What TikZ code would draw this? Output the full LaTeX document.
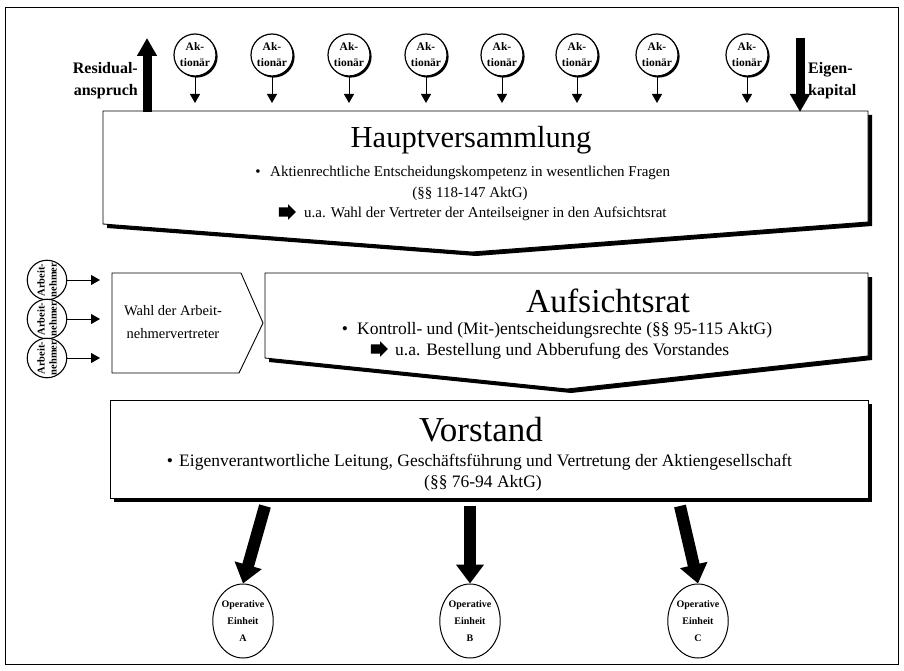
\documentclass[tikz,border=0pt]{standalone}
\usepackage{fontspec}
\setmainfont{Liberation Serif}
\usetikzlibrary{arrows.meta,shapes.arrows,shapes.geometric,shadows}
\begin{document}
\begin{tikzpicture}[x=1pt,y=-1pt,
  frame/.style={line width=1pt},
  boxshape/.style={fill=white,draw=black,line width=0.9pt},
  boxshadow/.style={fill=black},
  title/.style={inner sep=0pt,anchor=base},
  body/.style={inner sep=0pt,anchor=base west},
  bodyc/.style={inner sep=0pt,anchor=base},
  side/.style={inner sep=0pt,font=\bfseries\fontsize{16}{22}\selectfont},
  aktionaer/.style={circle,draw,fill=white,line width=1.2pt,minimum size=42pt,inner sep=0pt,
     align=center,font=\bfseries\fontsize{11.5}{16}\selectfont,
     drop shadow={opacity=1,fill=black,shadow xshift=1.6pt,shadow yshift=-1.6pt}},
  arbeit/.style={circle,draw,fill=white,line width=1.1pt,minimum size=38pt,inner sep=0pt,
     align=center,rotate=90,font=\bfseries\fontsize{10.5}{12}\selectfont},
  einheit/.style={ellipse,draw,fill=white,line width=1pt,minimum width=57pt,minimum height=74pt,
     inner sep=0pt,align=center,font=\bfseries\fontsize{10}{17}\selectfont},
  smallarrow/.style={line width=1pt,-{Triangle[length=9pt,width=10pt]}},
  bigarrow/.style={line width=9pt,-{Triangle[length=18pt,width=19pt]}},
  blockarrow/.style={line width=12pt,-{Triangle[length=19pt,width=27pt]}},
  uaarrow/.style={single arrow,fill=black,minimum height=17pt,inner xsep=0pt,inner ysep=4.5pt,
     single arrow head extend=3pt},
  bullet/.style={inner sep=0pt,anchor=base}
]
\useasboundingbox (0,0) rectangle (904,671);
\fill[white] (0,0) rectangle (904,671);
\draw[frame] (5,8) rectangle (898,664);

% ---------- Hauptversammlung ----------
\fill[boxshadow,shift={(4,4)}] (103,111) -- (868,111) -- (868,222) -- (472,252) -- (103,224) -- cycle;
\draw[boxshape] (103,111) -- (868,111) -- (868,222) -- (472,252) -- (103,224) -- cycle;
\begin{scope}[every node/.append style={font=\fontsize{15}{17}\selectfont}]
\node[title,font=\fontsize{30.5}{36}\selectfont] (hvtitle) at (471,148) {Hauptversammlung};
\node[bullet] (hvb) at (258,177) {\textbullet};
\node[body] (hv1) at (270,177) {Aktienrechtliche Entscheidungskompetenz in wesentlichen Fragen};
\node[bodyc] (hv2) at (470,197) {(§§ 118-147 AktG)};
\node[uaarrow] (hvua) at (285,212) {};
\node[body] (hv3) at (304,217) {u.a. Wahl der Vertreter der Anteilseigner in den Aufsichtsrat};
\end{scope}

% ---------- Aufsichtsrat ----------
\fill[boxshadow,shift={(4,4)}] (265,273) -- (868,273) -- (868,356) -- (567,389) -- (265,358) -- cycle;
\draw[boxshape] (265,273) -- (868,273) -- (868,356) -- (567,389) -- (265,358) -- cycle;
\begin{scope}[every node/.append style={font=\fontsize{17.5}{20}\selectfont}]
\node[title,font=\fontsize{33.5}{38}\selectfont] (artitle) at (608,312) {Aufsichtsrat};
\node[bullet] (arb) at (345,334) {\textbullet};
\node[body] (ar1) at (357,334) {Kontroll- und (Mit-)entscheidungsrechte (§§ 95-115 AktG)};
\node[uaarrow] (arua) at (377,349) {};
\node[body] (ar2) at (395,355) {u.a. Bestellung und Abberufung des Vorstandes};
\end{scope}

% ---------- Wahl der Arbeitnehmervertreter ----------
\draw[boxshape] (112,273) -- (241,273) -- (263,323) -- (239,373) -- (112,373) -- cycle;
\node[inner sep=0pt,align=center,font=\fontsize{14.5}{23}\selectfont] (wahl) at (173,322) {Wahl der Arbeit-\\nehmervertreter};
\coordinate (w1) at (100,280);
\coordinate (w2) at (100,319);
\coordinate (w3) at (100,358);

% Arbeitnehmer circles
\node[arbeit] (an1) at (47,280) {Arbeit-\\nehmer};
\node[arbeit] (an2) at (47,319) {Arbeit-\\nehmer};
\node[arbeit] (an3) at (47,358) {Arbeit-\\nehmer};
\draw[smallarrow] (an1) -- (w1);
\draw[smallarrow] (an2) -- (w2);
\draw[smallarrow] (an3) -- (w3);

% ---------- Vorstand ----------
\fill[boxshadow,shift={(4,4)}] (110,400) rectangle (868,498);
\draw[boxshape] (110,400) rectangle (868,498);
\begin{scope}[every node/.append style={font=\fontsize{17.5}{20}\selectfont}]
\node[title,font=\fontsize{35}{40}\selectfont] (vtitle) at (481,441) {Vorstand};
\node[bullet] (vb) at (170,466) {\textbullet};
\node[body] (v1) at (179,466) {Eigenverantwortliche Leitung, Geschäftsführung und Vertretung der Aktiengesellschaft};
\node[bodyc] (v2) at (483,487) {(§§ 76-94 AktG)};
\end{scope}

% ---------- Operative Einheiten ----------
\node[einheit] (eA) at (243,621) {Operative\\Einheit\\A};
\node[einheit] (eB) at (470,621) {Operative\\Einheit\\B};
\node[einheit] (eC) at (698,621) {Operative\\Einheit\\C};
\coordinate (vA) at (265,506);
\coordinate (vB) at (470,506);
\coordinate (vC) at (680,506);
\draw[blockarrow] (vA) -- (eA.north);
\draw[blockarrow] (vB) -- (eB.north);
\draw[blockarrow] (vC) -- (eC.north);

% ---------- Aktionäre ----------
\foreach \i/\x in {1/195,2/272,3/349,4/426,5/502,6/577,7/657,8/747}{
  \node[aktionaer] (ak\i) at (\x,55) {Ak-\\tionär};
  \coordinate (akt\i) at (\x,103);
  \draw[smallarrow] (ak\i) -- (akt\i);
}

% ---------- Residualanspruch / Eigenkapital ----------
\coordinate (resbase) at (147,112);
\coordinate (restop) at (147,38);
\draw[bigarrow] (resbase) -- (restop);
\node[side,anchor=east,align=right] (res) at (138,81) {Residual-\\anspruch};
\coordinate (ektop) at (800,38);
\coordinate (ekbase) at (800,112);
\draw[bigarrow] (ektop) -- (ekbase);
\node[side,anchor=west,align=left] (ek) at (808,81) {Eigen-\\kapital};
\end{tikzpicture}
\end{document}
